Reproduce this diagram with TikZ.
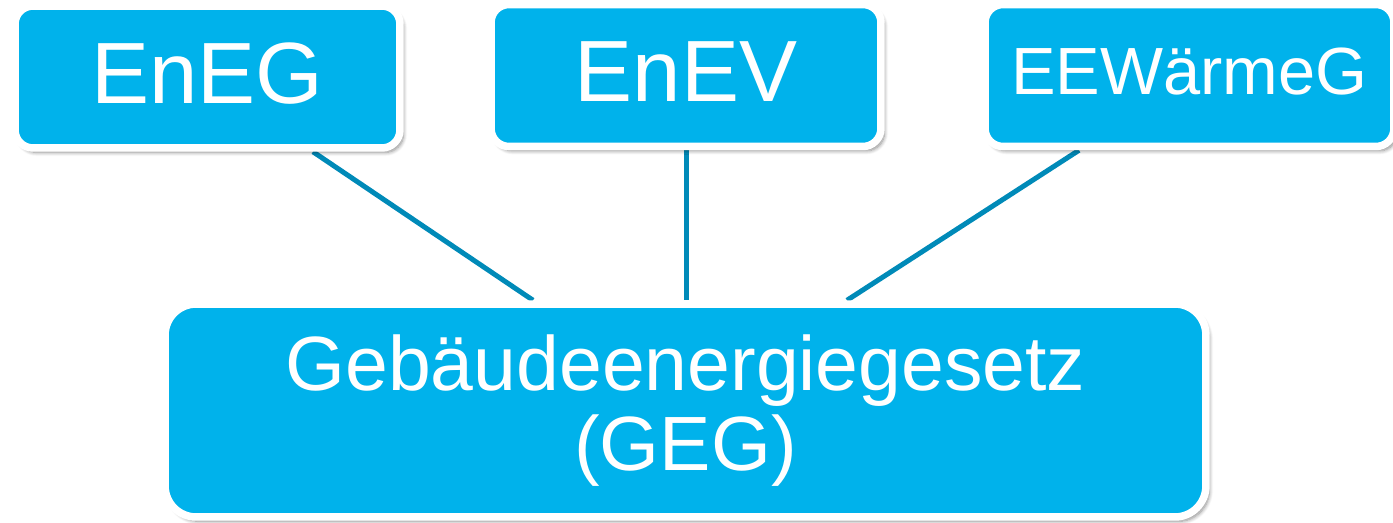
\documentclass[tikz,border=0pt]{standalone}
\usepackage{fontspec}
\setmainfont{Liberation Sans}
\usetikzlibrary{shadows.blur,backgrounds}

\definecolor{boxblue}{RGB}{0,178,235}
\definecolor{linkblue}{RGB}{0,138,184}

\begin{document}
\begin{tikzpicture}[%
      x=0.02cm, y=-0.02cm,
      lawbox/.style={rectangle, rounded corners=0.36cm, fill=boxblue,
        draw=white, line width=0.15cm, text=white, inner sep=0pt,
        minimum height=2.84cm,
        blur shadow={shadow xshift=2pt, shadow yshift=-2.5pt,
          shadow blur steps=8, shadow opacity=45}},
      bigtext/.style={font=\fontsize{49.5}{50}\selectfont,
        text height=1.25cm, text depth=0.21cm},
      link/.style={color=linkblue, line width=0.1cm},
      ]
      \useasboundingbox (0,0) rectangle (1393,522);

      % top row
      \node[lawbox, bigtext, minimum width=7.7cm] (eneg) at (207.5,77) {EnEG};
      \node[lawbox, bigtext, minimum width=7.8cm] (enev) at (686,75.5) {EnEV};
      \node[lawbox, minimum width=8.18cm, font=\fontsize{38}{40}\selectfont,
        text height=0.96cm, text depth=0.19cm]
        (eewg) at (1189.5,75.5) {EEWärmeG};

      % law below
      \node[lawbox, rounded corners=0.62cm, minimum width=20.82cm,
        minimum height=4.26cm, align=center,
        font=\fontsize{43.8}{46}\selectfont]
        (geg) at (685.5,410.5) {Gebäudeenergiegesetz\\(GEG)};

      \begin{pgfonlayer}{background}
      \draw[link] ([xshift=2.11cm]eneg.south) -- ([xshift=-3.05cm]geg.north);
      \draw[link] (enev.south) -- (enev.south |- geg.north);
      \draw[link] ([xshift=-2.21cm]eewg.south) -- ([xshift=3.23cm]geg.north);
      \end{pgfonlayer}
\end{tikzpicture}
\end{document}
